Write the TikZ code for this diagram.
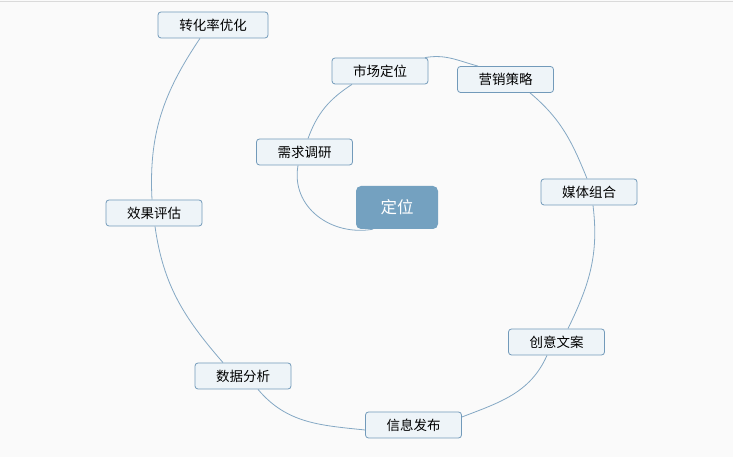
\documentclass[tikz,border=0pt]{standalone}
\usepackage{fontspec}
\usepackage{xcolor}
\usepackage{tikz}
\setmainfont{Noto Sans CJK SC}
\definecolor{mapbg}{RGB}{250,250,250}
\definecolor{maprule}{RGB}{218,218,218}
\definecolor{mapblue}{RGB}{116,161,192}
\definecolor{mapedge}{RGB}{114,154,186}
\definecolor{mapfill}{RGB}{238,244,248}
\definecolor{mapcurve}{RGB}{132,168,196}

\begin{document}
\begin{tikzpicture}[x=1pt, y=1pt,
        boxtopic/.style={rectangle, fill=mapblue, text=white, rounded corners=5pt, minimum width=82pt, minimum height=43pt, inner sep=0pt, font=\fontsize{16.5}{18}\selectfont},
        boxsub/.style={rectangle, draw=mapedge, line width=0.8pt, fill=mapfill, rounded corners=3pt, minimum width=96pt, minimum height=26pt, inner sep=0pt, font=\fontsize{13.5}{15}\selectfont},
        link/.style={draw=mapcurve, line width=0.8pt}
    ]
        \useasboundingbox (0,0) rectangle (733,457);
        \fill[mapbg] (0,0) rectangle (733,457);
        \draw[maprule, line width=1pt] (0,455.7) -- (733,455.7);
        % nodes along the spiral
        \node[boxtopic] (dingwei) at (397,249.5) {定位};
        \node[boxsub] (xuqiu) at (304.5,305) {需求调研};
        \node[boxsub] (shichang) at (380,386) {市场定位};
        \node[boxsub] (yingxiao) at (505.5,377.5) {营销策略};
        \node[boxsub] (meiti) at (589,265) {媒体组合};
        \node[boxsub] (chuangyi) at (556.5,115) {创意文案};
        \node[boxsub] (xinxi) at (413.5,32) {信息发布};
        \node[boxsub] (shuju) at (243,81) {数据分析};
        \node[boxsub] (xiaoguo) at (154,244) {效果评估};
        \node[boxsub, minimum width=110pt] (zhuanhua) at (213,432) {转化率优化};
        % spiral links
        \draw[link] ([xshift=-24pt]dingwei.south) to[out=190, in=-100, looseness=1.1] ([xshift=-6.5pt]xuqiu.south);
        \draw[link] ([xshift=3.5pt]xuqiu.north) to[out=70, in=213] ([xshift=-28pt]shichang.south);
        \draw[link] ([xshift=45pt]shichang.north) to[out=10, in=165] ([xshift=-27.5pt]yingxiao.north);
        \draw[link] ([xshift=24.5pt]yingxiao.south) to[out=-40, in=112] ([xshift=-2pt]meiti.north);
        \draw[link] ([xshift=4pt]meiti.south) to[out=-83, in=64] ([xshift=11.5pt]chuangyi.north);
        \draw[link] ([xshift=-9.5pt]chuangyi.south) to[out=-114, in=21] ([yshift=8pt]xinxi.east);
        \draw[link] ([yshift=-5pt]xinxi.west) to[out=174, in=-50] ([xshift=15pt]shuju.south);
        \draw[link] ([xshift=-20pt]shuju.north) to[out=131, in=-82] ([xshift=1pt]xiaoguo.south);
        \draw[link] ([xshift=-2pt]xiaoguo.north) to[out=93, in=-124] ([xshift=-13pt]zhuanhua.south);
    \end{tikzpicture}
\end{document}
